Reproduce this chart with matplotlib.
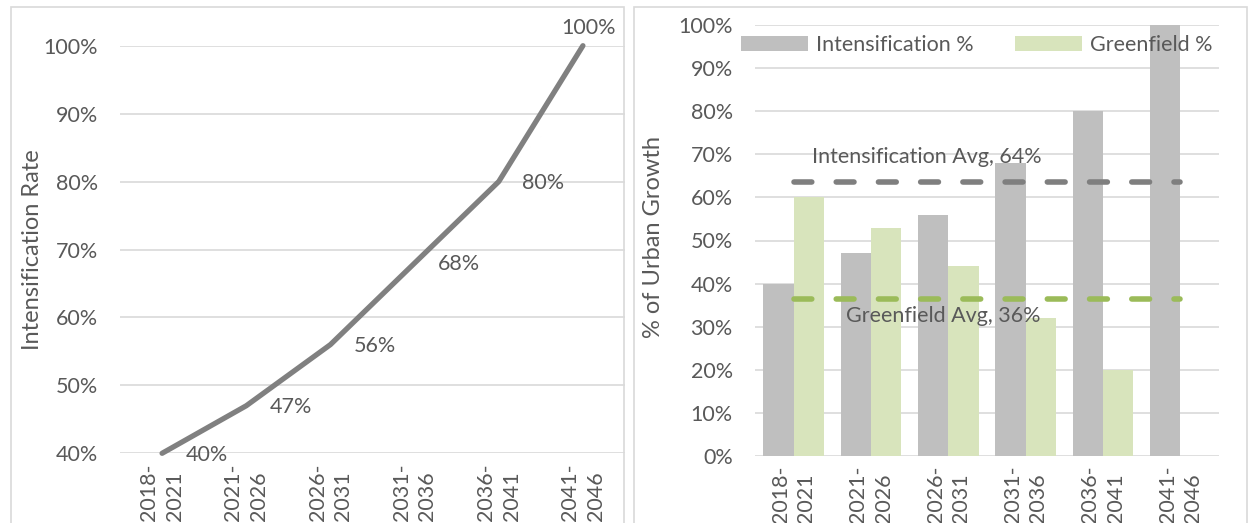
import matplotlib.pyplot as plt
from matplotlib.patches import Rectangle
from matplotlib.ticker import PercentFormatter
from matplotlib.transforms import ScaledTranslation

# ---- data ----
periods = ["2018-\n2021", "2021-\n2026", "2026-\n2031", "2031-\n2036", "2036-\n2041", "2041-\n2046"]
intensification = [0.40, 0.47, 0.56, 0.68, 0.80, 1.00]
greenfield = [0.60, 0.53, 0.44, 0.32, 0.20, 0.00]
intens_avg = 0.636
green_avg = 0.364

TEXT = "#595959"
GRID = "#D9D9D9"
FS = 15.5
plt.rcParams["font.family"] = ["Lato", "DejaVu Sans"]
plt.rcParams["font.size"] = FS

W, H = 1248, 523
fig = plt.figure(figsize=(W / 100, H / 100), dpi=100)


def px_axes(x0, y_top, x1, y_bot):
    return fig.add_axes([x0 / W, (H - y_bot) / H, (x1 - x0) / W, (y_bot - y_top) / H])


def style(ax):
    for s in ax.spines.values():
        s.set_visible(False)
    ax.yaxis.grid(True, color=GRID, linewidth=1.2)
    ax.set_axisbelow(True)
    ax.tick_params(length=0, colors=TEXT, labelsize=FS)
    ax.tick_params(axis="y", pad=16)
    ax.tick_params(axis="x", pad=7)
    ax.yaxis.set_major_formatter(PercentFormatter(1.0, decimals=0))
    x = range(len(periods))
    ax.set_xticks(list(x))
    ax.set_xticklabels(periods, rotation=90, linespacing=1.35)
    for lbl in ax.get_xticklabels():
        lbl.set_multialignment("left")
    ax.set_xlim(-0.5, len(periods) - 0.5)


# panel frames
for x0 in (11, 634):
    fig.patches.append(Rectangle((x0 / W, -0.02), 613 / W, (H - 7) / H + 0.02,
                                 transform=fig.transFigure, fill=False,
                                 edgecolor=GRID, linewidth=1.2))

# ---- left: intensification rate line ----
ax1 = px_axes(120, 45.7, 625, 453.3)
style(ax1)
ax1.set_ylim(0.40, 1.00)
ax1.set_yticks([0.4, 0.5, 0.6, 0.7, 0.8, 0.9, 1.0])
xs = list(range(len(periods)))
ax1.plot(xs, intensification, color="#808080", linewidth=3.8,
         solid_capstyle="round", solid_joinstyle="round", clip_on=False, zorder=3)
for i, v in enumerate(intensification):
    if i == len(intensification) - 1:
        ax1.annotate(f"{v:.0%}", (i, v), xytext=(4, 13), textcoords="offset points",
                     ha="center", va="center", color=TEXT, fontsize=FS)
    else:
        ax1.annotate(f"{v:.0%}", (i, v), xytext=(17, -1), textcoords="offset points",
                     ha="left", va="center", color=TEXT, fontsize=FS)
fig.text(33 / W, 1 - 250 / H, "Intensification Rate", rotation=90,
         ha="center", va="center", color=TEXT, fontsize=17)

# ---- right: share of urban growth bars ----
ax2 = px_axes(755, 25, 1219, 456)
style(ax2)
ax2.set_ylim(0, 1.0)
ax2.set_yticks([i / 10 for i in range(11)])
bw = 0.393
ax2.bar([x - bw / 2 for x in xs], intensification, width=bw, color="#BFBFBF",
        label="Intensification %", zorder=2)
ax2.bar([x + bw / 2 for x in xs], greenfield, width=bw, color="#D8E4BC",
        label="Greenfield %", zorder=2)
ax2.plot([xs[0], xs[-1]], [intens_avg, intens_avg], color="#7F7F7F", linewidth=4,
         dashes=(3.2, 4.4), dash_capstyle="round", zorder=3)
ax2.plot([xs[0], xs[-1]], [green_avg, green_avg], color="#9BBB59", linewidth=4,
         dashes=(3.2, 4.4), dash_capstyle="round", zorder=3)
ax2.text(1.72, intens_avg, f"Intensification Avg, {intens_avg:.0%}", color=TEXT,
         ha="center", va="center", fontsize=FS,
         transform=ax2.transData + ScaledTranslation(0, 25 / 100, fig.dpi_scale_trans))
ax2.text(1.94, green_avg, f"Greenfield Avg, {green_avg:.0%}", color=TEXT,
         ha="center", va="center", fontsize=FS,
         transform=ax2.transData + ScaledTranslation(0, -17 / 100, fig.dpi_scale_trans))
leg = ax2.legend(loc="center left", bbox_to_anchor=(741 / W, 1 - 45 / H),
                 bbox_transform=fig.transFigure, ncol=2, frameon=False,
                 borderpad=0, borderaxespad=0, handlelength=3.1, handleheight=0.7,
                 handletextpad=0.4, columnspacing=1.9, fontsize=FS)
for t in leg.get_texts():
    t.set_color(TEXT)
leg.set_zorder(5)
fig.text(653 / W, 1 - 237 / H, "% of Urban Growth", rotation=90,
         ha="center", va="center", color=TEXT, fontsize=17)

fig.savefig("out.png", dpi=100)
